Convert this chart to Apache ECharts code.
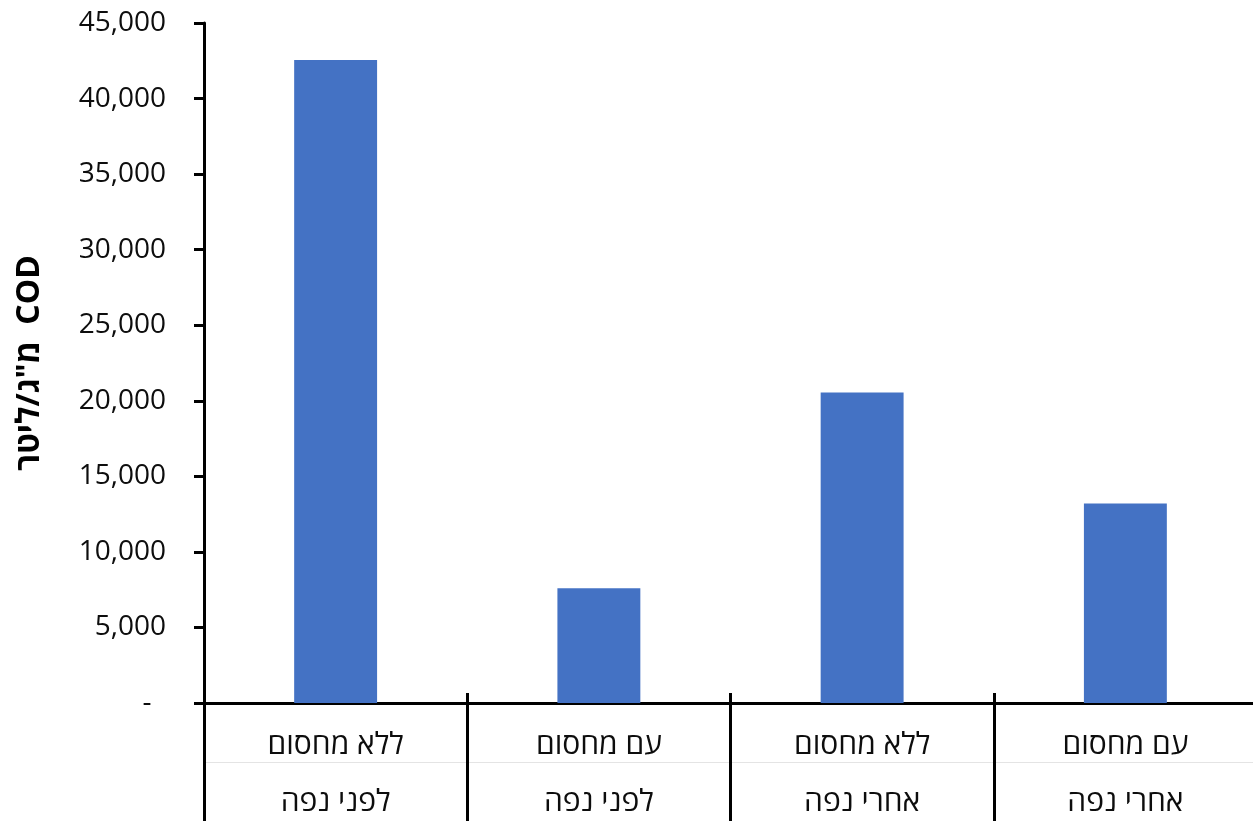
<!DOCTYPE html>
<html>
<head>
<meta charset="utf-8">
<script src="https://cdn.jsdelivr.net/npm/echarts@6/dist/echarts.min.js"></script>
<style>
  html, body { margin: 0; padding: 0; background: #fff; }
  #chart { width: 1253px; height: 821px; }
</style>
</head>
<body>
<div id="chart"></div>
<script>
// COD concentration per treatment (mg/L)
const barrierLabels = ['ללא מחסום', 'עם מחסום', 'ללא מחסום', 'עם מחסום'];
const sieveLabels = ['לפני נפה', 'לפני נפה', 'אחרי נפה', 'אחרי נפה'];
const codValues = [42550, 7600, 20550, 13200];
const yTicks = { min: 0, max: 45000, interval: 5000 };
const yTitle = 'מ"ג/ליטר  COD';

const categories = barrierLabels.map((b, i) => b + '\n' + sieveLabels[i]);
const FONT = "'Open Sans', 'DejaVu Sans', sans-serif";
const INK = '#000000';

const chart = echarts.init(document.getElementById('chart'), null, { renderer: 'canvas' });

chart.setOption({
  animation: false,
  backgroundColor: '#ffffff',
  grid: { left: 204, top: 23, width: 1053, height: 680, containLabel: false, outerBoundsMode: 'none' },
  xAxis: [
    {
      // main category axis with two-row labels
      type: 'category',
      data: categories,
      position: 'bottom',
      axisLine: { show: true, lineStyle: { color: INK, width: 3 } },
      axisTick: { show: false },
      axisLabel: {
        color: '#0d0d0d', fontFamily: FONT, fontSize: 30,
        lineHeight: 57, margin: 14, interval: 0
      },
      splitLine: { show: false }
    },
    {
      // group separators between categories
      type: 'category',
      data: categories,
      position: 'bottom',
      offset: -10,
      axisLine: { show: false },
      axisTick: { show: true, alignWithLabel: false, length: 130, interval: 0,
                  lineStyle: { color: INK, width: 3 } },
      axisLabel: { show: false },
      splitLine: { show: false }
    },
    {
      // faint rule between the two label rows
      type: 'category',
      data: categories,
      position: 'bottom',
      offset: 59,
      axisLine: { show: true, lineStyle: { color: '#e4e4e4', width: 1 } },
      axisTick: { show: false },
      axisLabel: { show: false },
      splitLine: { show: false }
    }
  ],
  yAxis: {
    type: 'value',
    min: yTicks.min,
    max: yTicks.max,
    interval: yTicks.interval,
    name: yTitle,
    nameLocation: 'middle',
    nameRotate: 90,
    nameGap: 158,
    nameTextStyle: { color: INK, fontFamily: FONT, fontSize: 32, fontWeight: 'bold' },
    axisLine: { show: true, lineStyle: { color: INK, width: 3 } },
    axisTick: { show: true, length: 10, lineStyle: { color: INK, width: 3 } },
    axisLabel: {
      color: '#0d0d0d', fontFamily: FONT, fontSize: 28, margin: 38,
      formatter: v => v === 0 ? '-  ' : v.toLocaleString('en-US')
    },
    splitLine: { show: false }
  },
  series: [{
    type: 'bar',
    xAxisIndex: 0,
    data: codValues,
    barWidth: '31.5%',
    itemStyle: { color: '#4472C4' }
  }]
});
</script>
</body>
</html>
